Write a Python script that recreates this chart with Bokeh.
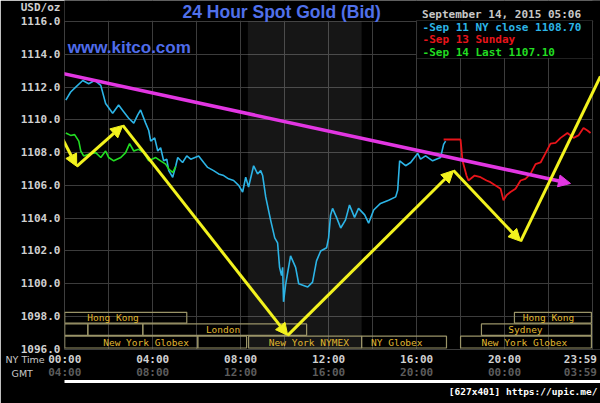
import re
from bokeh.plotting import figure
from bokeh.models import (FixedTicker, LinearAxis, Label, BoxAnnotation, Arrow, Title,
                          NormalHead, ColumnDataSource, PrintfTickFormatter, Range1d)
from bokeh.core.properties import value
from bokeh.embed import file_html
from bokeh.resources import INLINE

# ---------------- data ----------------
# Sep 11 NY close (cyan) : hours (NY time), price
sep11_h = [0.05, 0.27, 0.5, 0.82, 1.09, 1.36, 1.64, 1.86, 2.18, 2.45, 2.68, 2.91, 3.14, 3.32,
           3.45, 3.68, 3.82, 3.91, 4.09, 4.23, 4.36, 4.5, 4.64, 4.73, 4.91, 5.05, 5.14, 5.36,
           5.55, 5.73, 6.09, 6.32, 6.5, 6.77, 7.0, 7.23, 7.45, 7.68, 7.91, 8.09, 8.23, 8.36,
           8.59, 8.77, 8.91, 9.0, 9.14, 9.36, 9.55, 9.68, 9.77, 9.86, 9.91, 9.95, 10.05, 10.27,
           10.5, 10.64, 10.86, 11.05, 11.27, 11.45, 11.64, 11.91, 12.0, 12.09, 12.18, 12.36,
           12.55, 12.77, 12.95, 13.18, 13.36, 13.64, 13.82, 14.05, 14.36, 14.73, 15.05, 15.14,
           15.23, 15.5, 15.73, 16.05, 16.18, 16.41, 16.73, 17.09, 17.23, 17.32]
sep11_v = [1111.2, 1111.7, 1112.0, 1112.4, 1112.2, 1112.4, 1112.1, 1111.0, 1110.4, 1110.9,
           1110.5, 1110.1, 1109.8, 1110.3, 1110.6, 1109.8, 1109.35, 1108.7, 1108.9, 1108.1,
           1108.3, 1107.5, 1107.6, 1106.9, 1106.5, 1107.2, 1107.7, 1107.4, 1107.8, 1107.6,
           1107.8, 1107.4, 1107.1, 1106.9, 1106.7, 1106.6, 1106.4, 1106.3, 1106.0, 1105.6,
           1106.5, 1105.9, 1107.2, 1106.7, 1106.9, 1106.6, 1105.3, 1103.9, 1102.8, 1102.5,
           1101.0, 1100.5, 1101.0, 1098.9, 1100.0, 1101.7, 1101.0, 1100.0, 1099.9, 1099.8,
           1100.1, 1101.4, 1102.0, 1102.2, 1102.8, 1104.2, 1104.6, 1104.05, 1103.4, 1103.9,
           1104.8, 1104.05, 1104.6, 1104.2, 1103.7, 1104.5, 1104.9, 1105.1, 1105.3, 1105.7,
           1107.5, 1107.2, 1107.4, 1107.95, 1107.6, 1107.8, 1107.5, 1107.7, 1108.5, 1108.7]

# Sep 13 Sunday (red)
sep13_h = [17.23, 18.0, 18.09, 18.27, 18.36, 18.64, 18.91, 19.18, 19.36, 19.59, 19.82, 19.95,
           20.09, 20.27, 20.5, 20.73, 20.95, 21.18, 21.41, 21.64, 21.86, 22.09, 22.32, 22.55,
           22.86, 23.14, 23.36, 23.59, 23.77, 23.91]
sep13_v = [1108.8, 1108.8, 1107.5, 1106.6, 1106.3, 1106.6, 1106.5, 1106.3, 1106.2, 1106.0,
           1105.8, 1105.1, 1105.4, 1105.6, 1105.8, 1106.3, 1106.4, 1106.7, 1107.3, 1107.4,
           1107.95, 1108.55, 1108.6, 1108.9, 1109.2, 1108.9, 1109.05, 1109.5, 1109.35, 1109.2]

# Sep 14 Last (green)
sep14_h = [0.05, 0.27, 0.45, 0.64, 0.73, 0.86, 1.09, 1.41, 1.64, 1.86, 2.0, 2.23, 2.55, 2.77,
           2.95, 3.14, 3.36, 3.59, 3.82, 4.14, 4.36, 4.59, 4.73, 4.91, 5.05]
sep14_v = [1109.2, 1109.05, 1109.1, 1108.7, 1108.1, 1107.8, 1107.9, 1108.0, 1107.7, 1108.1,
           1107.7, 1107.5, 1107.7, 1108.0, 1108.55, 1108.1, 1108.2, 1108.0, 1107.5, 1107.7,
           1107.5, 1107.3, 1107.0, 1106.8, 1107.15]

legend_texts = ["-Sep 11 NY close 1108.70", "-Sep 13 Sunday", "-Sep 14 Last 1107.10"]
legend_colors = ["#2cb4e6", "#e8141a", "#22dd22"]

# trading sessions: row (0 top), start hour, end hour, label, label hour
sess_row = [0, 0, 1, 1, 1, 1, 2, 2, 2, 2, 2]
sess_start = [0.0, 20.45, 0.0, 1.05, 3.55, 18.95, 0.0, 6.05, 8.36, 13.5, 18.0]
sess_end = [5.55, 23.95, 1.05, 3.55, 11.0, 23.95, 6.05, 8.27, 13.5, 17.36, 23.95]
sess_label = ["Hong Kong", "Hong Kong", "", "", "London", "Sydney", "New York Globex", "",
              "New York NYMEX", "NY Globex", "New York Globex"]
sess_label_h = [2.2, 22.0, 0.5, 2.3, 7.2, 20.95, 3.7, 7.1, 11.1, 15.1, 20.9]
row_top = [1098.26, 1097.55, 1096.8]
row_bottom = [1097.6, 1096.85, 1096.08]

nymex_hours = [8.33, 13.5]

# hand-drawn annotation paths (hours, price)
yellow_h = [-1.18, 0.545, 2.64, 10.14, 17.68, 20.73, 24.36]
yellow_v = [1111.67, 1107.16, 1109.66, 1096.85, 1106.91, 1102.59, 1112.65]
yellow_head = [True, True, True, True, True, False]
trend_h = [-0.32, 23.0]
trend_v = [1112.89, 1106.12]

y_ticks = [1096, 1098, 1100, 1102, 1104, 1106, 1108, 1110, 1112, 1114, 1116]
unit_tick = 1116.85
x_grid = list(range(0, 25, 2))
x_ticks = [0, 4, 8, 12, 16, 20, 23.45]
ny_labels = ["00:00", "04:00", "08:00", "12:00", "16:00", "20:00", "23:59"]
gmt_labels = ["04:00", "08:00", "12:00", "16:00", "20:00", "00:00", "03:59"]
row_names = ["NY Time", "\u00a0\u00a0GMT"]

# ---------------- figure ----------------
MONO = "DejaVu Sans Mono"
XR = Range1d(-0.01, 24.3636)
YR = Range1d(1095.99, 1117.28)
p = figure(width=600, height=403, x_range=XR, y_range=YR, title=None,
           x_axis_location=None, y_axis_location="left",
           output_backend="svg", toolbar_location=None,
           min_border_left=64, min_border_right=0, min_border_top=0, min_border_bottom=54,
           background_fill_color="black", border_fill_color="black",
           outline_line_color=None)

yax = p.yaxis[0]
yax.ticker = FixedTicker(ticks=y_ticks + [unit_tick])
yax.formatter = PrintfTickFormatter(format="%.1f")
yax.major_label_overrides = {unit_tick: "USD/oz"}
yax.axis_line_color = None
yax.major_tick_line_color = None
yax.major_tick_out = 0
yax.minor_tick_line_color = None
yax.major_label_text_color = "#d0d0d0"
yax.major_label_text_font = MONO
yax.major_label_text_font_style = "bold"
yax.major_label_text_font_size = "11px"
yax.major_label_standoff = 4

p.xgrid.ticker = FixedTicker(ticks=x_grid)
p.ygrid.ticker = FixedTicker(ticks=y_ticks)
p.xgrid.grid_line_color = "#3c3c3c"
p.ygrid.grid_line_color = "#3c3c3c"


def side_title(text, align, offset, color, font, size, style, standoff, line_height=1.0):
    t = Title(text=text, align=align, offset=offset, vertical_align="top",
              text_color=color, text_font=font, text_font_size=size,
              text_font_style=style, text_line_height=line_height)
    try:
        t.standoff = standoff
    except Exception:
        t.standoff = 0
    return t


def time_axis(labels, color, standoff):
    ax = LinearAxis(ticker=FixedTicker(ticks=x_ticks),
                    major_label_overrides={t: l for t, l in zip(x_ticks, labels)})
    ax.axis_line_color = None
    ax.major_tick_line_color = None
    ax.major_tick_out = 0
    ax.minor_tick_line_color = None
    ax.major_label_text_color = color
    ax.major_label_text_font = MONO
    ax.major_label_text_font_style = "bold"
    ax.major_label_text_font_size = "11px"
    try:
        ax.major_label_standoff = standoff
    except Exception:
        ax.major_label_standoff = 0
    return ax


p.add_layout(time_axis(ny_labels, "#d0d0d0", 3), "below")
p.add_layout(time_axis(gmt_labels, "#5c5c5c", -3), "below")
rule = LinearAxis(ticker=FixedTicker(ticks=[]), axis_line_color="white", axis_line_width=3,
                  major_tick_out=0, major_label_standoff=0, minor_tick_line_color=None)
p.add_layout(rule, "below")
p.add_layout(side_title("[627x401] https://upic.me/", "right", 3, "white", MONO, "9.5px",
                        "bold", 9), "below")
# row captions, placed last so they can be lifted back up beside the time rows
p.add_layout(side_title("\n".join(row_names), "left", -59, "#c8c8c8", "DejaVu Sans", "9.5px",
                        "normal", -100, 1.35), "below")

# masks: keep the grid inside the 1096-1116 / 00:00-24:00 box
p.quad(left=[XR.start], right=[XR.end], bottom=[y_ticks[-1] + 0.04], top=[YR.end],
       fill_color="black", line_color=None)
p.quad(left=[x_grid[-1] + 0.03], right=[XR.end], bottom=[YR.start], top=[YR.end],
       fill_color="black", line_color=None)

# NYMEX shaded period
p.quad(left=[nymex_hours[0]], right=[nymex_hours[1]], bottom=[y_ticks[0]], top=[y_ticks[-1]],
       fill_color="white", fill_alpha=0.085, line_color=None)

# session boxes
sess_src = ColumnDataSource(dict(
    left=sess_start, right=sess_end,
    top=[row_top[r] for r in sess_row], bottom=[row_bottom[r] for r in sess_row],
    lx=sess_label_h, ly=[(row_top[r] + row_bottom[r]) / 2 for r in sess_row],
    label=sess_label))
p.quad(left="left", right="right", top="top", bottom="bottom", source=sess_src,
       fill_color=None, line_color="#9a9468", line_width=1.2)
p.text(x="lx", y="ly", text="label", source=sess_src, text_color="#e0b830",
       text_font=value(MONO), text_font_size="9.5px", text_align="center",
       text_baseline="middle")

# price series
p.line(sep11_h, sep11_v, line_color=legend_colors[0], line_width=1.6)
p.line(sep14_h, sep14_v, line_color=legend_colors[2], line_width=1.6)
p.line(sep13_h, sep13_v, line_color=legend_colors[1], line_width=1.8)

# trend arrow (magenta)
p.add_layout(Arrow(x_start=trend_h[0], y_start=trend_v[0], x_end=trend_h[1], y_end=trend_v[1],
                   line_color="#e236e2", line_width=3.5,
                   end=NormalHead(size=12, fill_color="#e236e2", line_color="#e236e2")))
# yellow zig-zag arrows
for i in range(len(yellow_h) - 1):
    head = NormalHead(size=12, fill_color="#f2f21e", line_color="#f2f21e") if yellow_head[i] else None
    p.add_layout(Arrow(x_start=yellow_h[i], y_start=yellow_v[i],
                       x_end=yellow_h[i + 1], y_end=yellow_v[i + 1],
                       line_color="#f2f21e", line_width=3, end=head))

# legend box
p.add_layout(BoxAnnotation(left=16.0, right=24, top=1116.06, bottom=1113.74,
                           fill_color="black", fill_alpha=1, line_color="#707070",
                           line_width=1))
for txt, col, yy in zip(legend_texts, legend_colors, [1115.63, 1114.9, 1114.11]):
    p.add_layout(Label(x=16.27, y=yy, text=txt, text_color=col, text_font=MONO,
                       text_font_style="bold", text_font_size="11px",
                       text_align="left", text_baseline="middle"))

# texts
p.add_layout(Label(x=19.864, y=1116.43, text="September 14, 2015 05:06", text_color="#c8c8c8",
                   text_font=MONO, text_font_style="bold", text_font_size="11px",
                   text_align="center", text_baseline="middle"))
p.add_layout(Label(x=9.864, y=1116.6, text="24 Hour Spot Gold (Bid)", text_color="#5070ea",
                   text_font="Liberation Sans", text_font_style="bold", text_font_size="17.5px",
                   text_align="center", text_baseline="middle"))
p.add_layout(Label(x=0.136, y=1114.41, text="www.kitco.com", text_color="#4f6cea",
                   text_font="Liberation Sans", text_font_style="bold", text_font_size="17px",
                   text_align="left", text_baseline="middle"))

html = file_html(p, INLINE, title="24 Hour Spot Gold")
html = re.sub(r"<body([^>]*)>", r'<body\1 style="background:#000;">', html, count=1)
open("out.html", "w").write(html)
